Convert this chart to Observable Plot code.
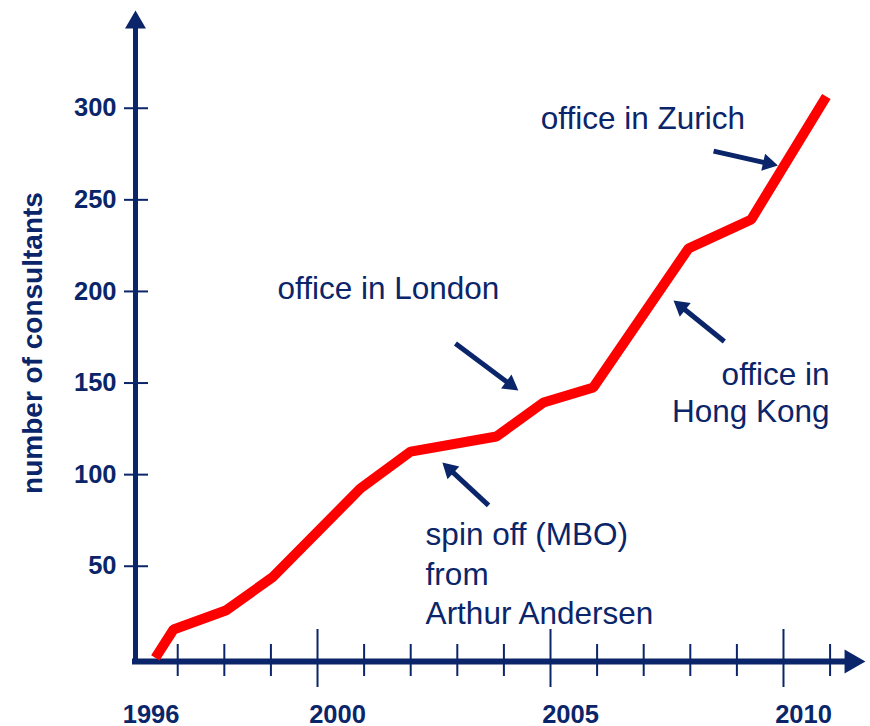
<!DOCTYPE html>
<html><head><meta charset="utf-8">
<script src="https://cdn.jsdelivr.net/npm/d3@7"></script>
<script src="https://cdn.jsdelivr.net/npm/@observablehq/plot@0.6"></script>
<style>body{margin:0;background:#fff} #chart svg{display:block}</style>
</head><body><div id="chart"></div>
<script>
// ---- data ----
const years = [1996.52, 1996.91, 1998.03, 1999.03, 2000.92, 2002.0, 2003.84, 2004.85, 2005.92, 2007.96, 2009.31, 2010.92];
const consultants = [0, 15.5, 25.8, 43.9, 92.4, 112.6, 120.8, 139.4, 147.6, 223.4, 239.3, 306.4];
const yTickValues = [50, 100, 150, 200, 250, 300];
const xLabelYears = [1996, 2000, 2005, 2010];
const tickYears = [1997, 1998, 1999, 2000, 2001, 2002, 2003, 2004, 2005, 2006, 2007, 2008, 2009, 2010, 2011];
const majorTickYears = [2000, 2005, 2010];
const yTitle = "number of consultants";
const noteTexts = ["office in Zurich", "office in London", "office in\nHong Kong", "spin off (MBO)\nfrom\nArthur Andersen"];
const noteYears = [2004.79, 1999.14, 2010.99, 2002.32];
const noteValues = [288.4, 195.6, 129.0, 18.7];
const arrowFromYears = [2008.50, 2002.96, 2008.73, 2003.67];
const arrowFromValues = [276.6, 171.6, 172.7, 83.2];
const arrowToYears = [2009.88, 2004.31, 2007.64, 2002.68];
const arrowToValues = [268.7, 145.9, 195.1, 106.6];

// ---- layout ----
const W = 870, H = 726, ML = 135, MR = 5, MT = 10, MB = 65;
const xDomain = [1996.094, 2011.76];
const yDomain = [-2, 353.35];
const navy = "#0a2569";
const font = "'Liberation Sans', Arial, Helvetica, sans-serif";

const series = years.map((y, i) => ({year: y, n: consultants[i]}));
const notes = noteTexts.map((t, i) => ({text: t, x: noteYears[i], y: noteValues[i]}));

const sx = Plot.scale({x: {domain: xDomain, range: [ML, W - MR]}});
const sy = Plot.scale({y: {domain: yDomain, range: [H - MB, MT]}});
const headR = 8.3;
const headS = headR * Math.sqrt(Math.PI) * 0.6824;
const arrows = arrowFromYears.map((x1, i) => {
  const px1 = sx.apply(x1), py1 = sy.apply(arrowFromValues[i]);
  const px2 = sx.apply(arrowToYears[i]), py2 = sy.apply(arrowToValues[i]);
  const dx = px2 - px1, dy = py2 - py1, L = Math.hypot(dx, dy);
  const cx = px2 - dx / L * headS, cy = py2 - dy / L * headS;
  return {x1, y1: arrowFromValues[i], hx: sx.invert(cx), hy: sy.invert(cy),
          angle: Math.atan2(dx, -dy) * 180 / Math.PI};
});

const chart = Plot.plot({
  width: W, height: H,
  marginLeft: ML, marginRight: MR, marginTop: MT, marginBottom: MB,
  x: {domain: xDomain, axis: null},
  y: {domain: yDomain, axis: null},
  style: {fontFamily: font, background: "white", overflow: "visible"},
  marks: [
    // y axis line + arrow
    Plot.ruleX([xDomain[0]], {stroke: navy, strokeWidth: 5, insetTop: 15, insetBottom: -3}),
    Plot.dot([0], {x: () => xDomain[0], y: () => yDomain[1], symbol: "triangle2", r: 10, fill: navy, dy: 12}),
    // x axis line + arrow
    Plot.ruleY([yDomain[0]], {stroke: navy, strokeWidth: 6, insetLeft: -3, insetRight: 15}),
    Plot.dot([0], {x: () => xDomain[1], y: () => yDomain[0], symbol: "triangle2", r: 11.5, rotate: 90, fill: navy, dx: -14}),
    // y ticks
    Plot.ruleY(yTickValues, {y: d => d, stroke: navy, strokeWidth: 2, insetLeft: -11, insetRight: (W - MR) - 148}),
    Plot.text(yTickValues, {y: d => d, text: d => String(d), frameAnchor: "left", dx: -19, textAnchor: "end",
      fontSize: 25.5, fontWeight: "bold", fill: navy}),
    // x ticks
    Plot.ruleX(tickYears.filter(d => !majorTickYears.includes(d)), {x: d => d, stroke: navy, strokeWidth: 2,
      insetTop: 644 - MT, insetBottom: -15}),
    Plot.ruleX(majorTickYears, {x: d => d, stroke: navy, strokeWidth: 2, insetTop: 629 - MT, insetBottom: -26}),
    Plot.text(xLabelYears, {x: d => d, text: d => String(d), frameAnchor: "bottom", dy: 53, dx: 20,
      lineAnchor: "middle", fontSize: 25.5, fontWeight: "bold", fill: navy}),
    // y title
    Plot.text([yTitle], {text: d => d, frameAnchor: "left", dx: -102, dy: 7, rotate: -90, textAnchor: "middle",
      fontSize: 28, fontWeight: "bold", fill: navy}),
    // data line
    Plot.line(series, {x: "year", y: "n", stroke: "#ff0000", strokeWidth: 10,
      strokeLinejoin: "miter", strokeLinecap: "butt"}),
    // annotation arrows
    Plot.link(arrows, {x1: "x1", y1: "y1", x2: "hx", y2: "hy", stroke: navy, strokeWidth: 5, strokeLinecap: "butt"}),
    Plot.dot(arrows, {x: "hx", y: "hy", rotate: "angle", symbol: "triangle2", r: headR, fill: navy}),
    // annotation texts
    Plot.text(notes.filter((d, i) => i !== 2 && i !== 3), {x: "x", y: "y", text: "text", textAnchor: "start",
      lineAnchor: "bottom", fontSize: 31.5, fill: navy}),
    Plot.text(notes.filter((d, i) => i === 2), {x: "x", y: "y", text: "text", textAnchor: "end",
      lineAnchor: "bottom", lineHeight: 1.15, fontSize: 31.5, fill: navy}),
    Plot.text(notes.filter((d, i) => i === 3), {x: "x", y: "y", text: "text", textAnchor: "start",
      lineAnchor: "bottom", lineHeight: 1.24, fontSize: 31.5, fill: navy})
  ]
});
document.getElementById("chart").appendChild(chart);
</script>
</body></html>
